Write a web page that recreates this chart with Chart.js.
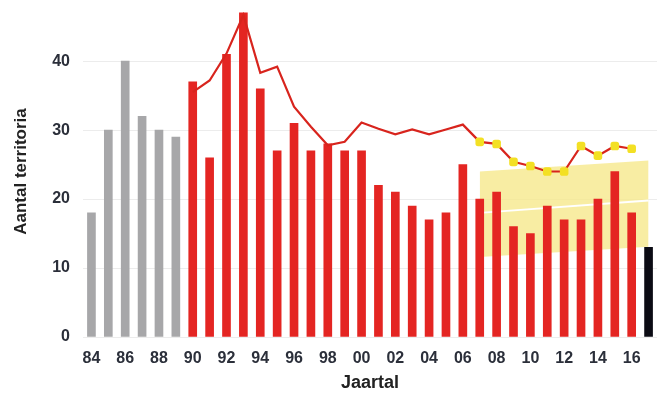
<!DOCTYPE html>
<html>
<head>
<meta charset="utf-8">
<script src="https://cdn.jsdelivr.net/npm/chart.js@4"></script>
<style>
  body { margin: 0; background: #fff; }
  canvas { display: block; }
</style>
</head>
<body>
<canvas id="chart" width="662" height="403"></canvas>
<script>
const years = ["84","85","86","87","88","89","90","91","92","93","94","95","96","97","98","99",
               "00","01","02","03","04","05","06","07","08","09","10","11","12","13","14","15","16","17"];
const territories = [18,30,40,32,30,29, 37,26,41,47,36,27,31,27,28,27, 27,22,21,19,17,18,25,20,21,16,15,19,17,17,20,24,18, 13];
const barColors = years.map((y, i) => i < 6 ? "#a7a7a9" : (i === 33 ? "#0b0b14" : "#e42522"));
const trendLine = [null,null,null,null,null,null, 35.5,37.2,41.1,46.7,38.3,39.2,33.4,30.5,27.8,28.3,
                   31.1,30.2,29.4,30.1,29.4,30.1,30.8,28.3,28.0,25.4,24.8,24.0,24.0,27.7,26.3,27.7,27.3, null];
const bandUpper = [null,null,null,null,null,null,null,null,null,null,null,null,null,null,null,null,
                   null,null,null,null,null,null,null,24.0,null,null,null,null,null,null,null,null,null,25.6];
const bandLower = [null,null,null,null,null,null,null,null,null,null,null,null,null,null,null,null,
                   null,null,null,null,null,null,null,11.6,null,null,null,null,null,null,null,null,null,13.1];
const bandMid = [null,null,null,null,null,null,null,null,null,null,null,null,null,null,null,null,
                 null,null,null,null,null,null,null,18.0,null,null,null,null,null,null,null,null,null,19.8];
const yTicks = [0, 10, 20, 30, 40];

const markerRadius = years.map((y, i) => i >= 23 ? 5 : 0);

new Chart(document.getElementById("chart"), {
  type: "bar",
  data: {
    labels: years,
    datasets: [
      {
        type: "line", data: trendLine, order: -1,
        borderColor: "#d8241d", borderWidth: 2.2, tension: 0,
        pointRadius: markerRadius, pointStyle: "rectRounded",
        pointBackgroundColor: "#f3e024", pointBorderColor: "#f3e024", pointBorderWidth: 0
      },
      { data: territories, backgroundColor: barColors, barThickness: 8, order: 0 },
      {
        type: "line", data: bandMid, order: 5, spanGaps: true,
        borderColor: "#ffffff", borderWidth: 2, pointRadius: 0
      },
      {
        type: "line", data: bandUpper, order: 10, spanGaps: true,
        borderColor: "rgba(0,0,0,0)", borderWidth: 0, pointRadius: 0,
        backgroundColor: "rgba(246,233,140,0.8)", fill: "+1"
      },
      {
        type: "line", data: bandLower, order: 10, spanGaps: true,
        borderColor: "rgba(0,0,0,0)", borderWidth: 0, pointRadius: 0
      }
    ]
  },
  options: {
    responsive: false,
    animation: false,
    layout: { padding: { top: 6, right: 1, left: 0, bottom: 0 } },
    plugins: { legend: { display: false }, tooltip: { enabled: false } },
    scales: {
      x: {
        afterFit: axis => { axis.height = 66; },
        grid: { display: false },
        border: { display: false },
        ticks: {
          autoSkip: false, maxRotation: 0, padding: 4,
          color: "#2b2f3a", font: { family: "Liberation Sans", size: 16, weight: "bold" },
          callback: (v, i) => (i % 2 === 0 && i < 33) ? years[i] : ""
        },
        title: {
          display: true, text: "Jaartal", color: "#222",
          font: { family: "Liberation Sans", size: 18, weight: "bold" },
          padding: { top: 0, bottom: 9 }
        }
      },
      y: {
        min: 0, max: 48,
        afterBuildTicks: axis => { axis.ticks = yTicks.map(v => ({ value: v })); },
        afterFit: axis => { axis.width = 83; axis.paddingTop = 0; axis.paddingBottom = 0; },
        grid: { color: "#ececec", drawTicks: false },
        border: { display: false },
        ticks: {
          padding: 13, color: "#2b2f3a",
          font: { family: "Liberation Sans", size: 16, weight: "bold" }
        },
        title: {
          display: true, text: "Aantal territoria", color: "#222",
          font: { family: "Liberation Sans", size: 17, weight: "bold" },
          padding: { top: 11, bottom: 0 }
        }
      }
    }
  }
});
</script>
</body>
</html>
